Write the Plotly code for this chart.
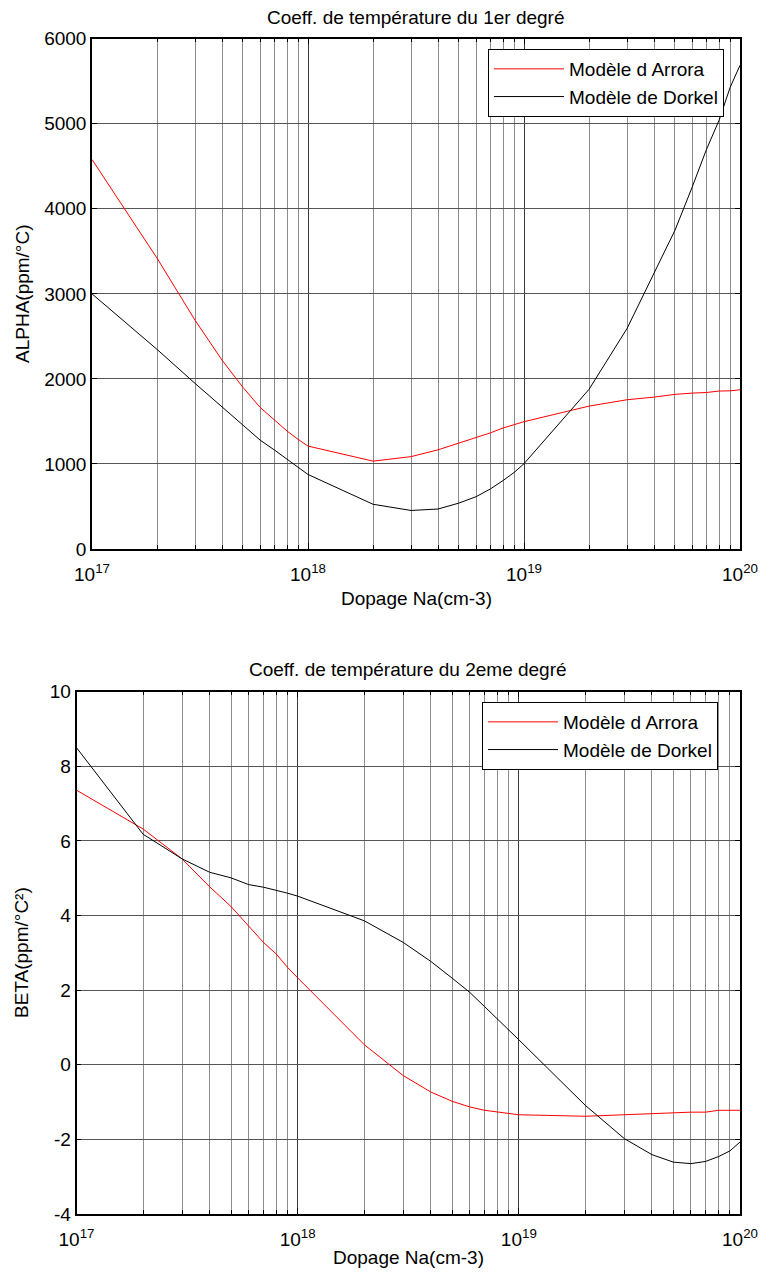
import plotly.graph_objects as go

# ---------------- data ----------------
dopage = [1e17, 2e17, 3e17, 4e17, 5e17, 6e17, 7e17, 8e17, 9e17,
          1e18, 2e18, 3e18, 4e18, 5e18, 6e18, 7e18, 8e18, 9e18,
          1e19, 2e19, 3e19, 4e19, 5e19, 6e19, 7e19, 8e19, 9e19,
          1e20]

alpha_arrora = [4580, 3420, 2690, 2221, 1900, 1665, 1516, 1387, 1289,
                1210, 1033, 1086, 1166, 1243, 1308, 1366, 1423, 1458,
                1497, 1680, 1755, 1786, 1818, 1833, 1840, 1857, 1860,
                1872]
alpha_dorkel = [3000, 2347, 1947, 1672, 1457, 1281, 1163, 1054, 967,
                876, 526, 453, 470, 540, 615, 707, 805, 900,
                1003, 1877, 2593, 3240, 3748, 4252, 4700, 5041, 5427,
                5687]

beta_arrora = [7.36, 6.32, 5.52, 4.77, 4.24, 3.73, 3.28, 2.97, 2.61,
               2.33, 0.54, -0.29, -0.73, -0.98, -1.13, -1.22, -1.27, -1.31,
               -1.34, -1.38, -1.34, -1.31, -1.27, -1.27, -1.27, -1.22, -1.22,
               -1.22]
beta_dorkel = [8.50, 6.18, 5.52, 5.16, 5.01, 4.83, 4.76, 4.68, 4.60,
               4.52, 3.86, 3.28, 2.77, 2.32, 1.94, 1.56, 1.23, 0.95,
               0.67, -1.09, -1.98, -2.41, -2.61, -2.65, -2.59, -2.46, -2.31,
               -2.07]

major_ticks = [1e17, 1e18, 1e19, 1e20]
major_text = ["10<sup>17</sup>", "10<sup>18</sup>", "10<sup>19</sup>", "10<sup>20</sup>"]
minor_ticks = [m * d for d in (1e17, 1e18, 1e19) for m in range(2, 10)]

alpha_ticks = [0, 1000, 2000, 3000, 4000, 5000, 6000]
alpha_text = ["0", "1000", "2000", "3000", "4000", "5000", "6000"]
beta_ticks = [-4, -2, 0, 2, 4, 6, 8, 10]
beta_text = ["-4", "-2", "0", "2", "4", "6", "8", "10"]

series_names = ["Modèle d Arrora", "Modèle de Dorkel"]
title_top = "Coeff. de température du 1er degré"
title_bot = "Coeff. de température du 2eme degré"
xlabel = "Dopage Na(cm-3)"
ylabel_top = "ALPHA(ppm/°C)"
ylabel_bot = "BETA(ppm/°C²)"

# ---------------- layout helpers ----------------
W, H = 761, 1279
FONT = "Liberation Sans, Arial, sans-serif"
FS = 19


def px(x):
    return x / W


def py(y):
    return 1 - y / H


fig = go.Figure()
fig.add_trace(go.Scatter(x=dopage, y=alpha_arrora, mode="lines", name=series_names[0],
                         line=dict(color="#ff0000", width=1), xaxis="x", yaxis="y", legend="legend"))
fig.add_trace(go.Scatter(x=dopage, y=alpha_dorkel, mode="lines", name=series_names[1],
                         line=dict(color="#000000", width=1), xaxis="x", yaxis="y", legend="legend"))
fig.add_trace(go.Scatter(x=dopage, y=beta_arrora, mode="lines", name=series_names[0],
                         line=dict(color="#ff0000", width=1), xaxis="x2", yaxis="y2", legend="legend2"))
fig.add_trace(go.Scatter(x=dopage, y=beta_dorkel, mode="lines", name=series_names[1],
                         line=dict(color="#000000", width=1), xaxis="x2", yaxis="y2", legend="legend2"))


def xaxis_cfg(domain, anchor):
    return dict(
        type="log", range=[17, 20], domain=domain, anchor=anchor,
        tickmode="array", tickvals=major_ticks, ticktext=major_text,
        ticks="inside", ticklen=6, tickcolor="black", tickwidth=1,
        ticklabelstandoff=7,
        showgrid=True, gridcolor="#3a3a3a", gridwidth=1,
        minor=dict(tickmode="array", tickvals=minor_ticks, ticks="inside", ticklen=4,
                   tickcolor="black", showgrid=True, gridcolor="#8c8c8c", gridwidth=1),
        showline=True, linecolor="black", linewidth=1.5, mirror="ticks",
        zeroline=False, tickfont=dict(family=FONT, size=FS, color="black"),
        automargin=False, fixedrange=True,
    )


def yaxis_cfg(domain, anchor, rng, tv, tt):
    return dict(
        range=rng, domain=domain, anchor=anchor,
        tickmode="array", tickvals=tv, ticktext=tt,
        ticks="inside", ticklen=5, tickcolor="black",
        showgrid=True, gridcolor="#555555", gridwidth=1,
        showline=True, linecolor="black", linewidth=1.5, mirror="ticks",
        zeroline=False, tickfont=dict(family=FONT, size=FS, color="black"),
        automargin=False, fixedrange=True,
    )


fig.update_layout(
    width=W, height=H,
    margin=dict(l=0, r=0, t=0, b=0, autoexpand=False),
    paper_bgcolor="white", plot_bgcolor="white",
    font=dict(family=FONT, size=FS, color="black"),
    xaxis=xaxis_cfg([px(92), px(740)], "y"),
    yaxis=yaxis_cfg([py(549), py(38.7)], "x", [0, 6000], alpha_ticks, alpha_text),
    xaxis2=xaxis_cfg([px(76.5), px(740)], "y2"),
    yaxis2=yaxis_cfg([py(1214), py(691.7)], "x2", [-4, 10], beta_ticks, beta_text),
    legend=dict(x=px(488), y=py(49), xanchor="left", yanchor="top",
                bgcolor="white", bordercolor="black", borderwidth=1,
                font=dict(family=FONT, size=FS, color="black"), itemwidth=70),
    legend2=dict(x=px(482), y=py(702), xanchor="left", yanchor="top",
                 bgcolor="white", bordercolor="black", borderwidth=1,
                 font=dict(family=FONT, size=FS, color="black"), itemwidth=70),
    showlegend=True,
)

ann = [
    dict(text=title_top, x=px(416), y=py(17)),
    dict(text=title_bot, x=px(408), y=py(669)),
    dict(text=xlabel, x=px(416), y=py(598)),
    dict(text=xlabel, x=px(408), y=py(1257)),
    dict(text=ylabel_top, x=px(22), y=py(294), textangle=-90),
    dict(text=ylabel_bot, x=px(22), y=py(953), textangle=-90),
]
for a in ann:
    fig.add_annotation(xref="paper", yref="paper", showarrow=False,
                       xanchor="center", yanchor="middle",
                       font=dict(family=FONT, size=FS, color="black"), **a)

fig.write_html("out.html")
